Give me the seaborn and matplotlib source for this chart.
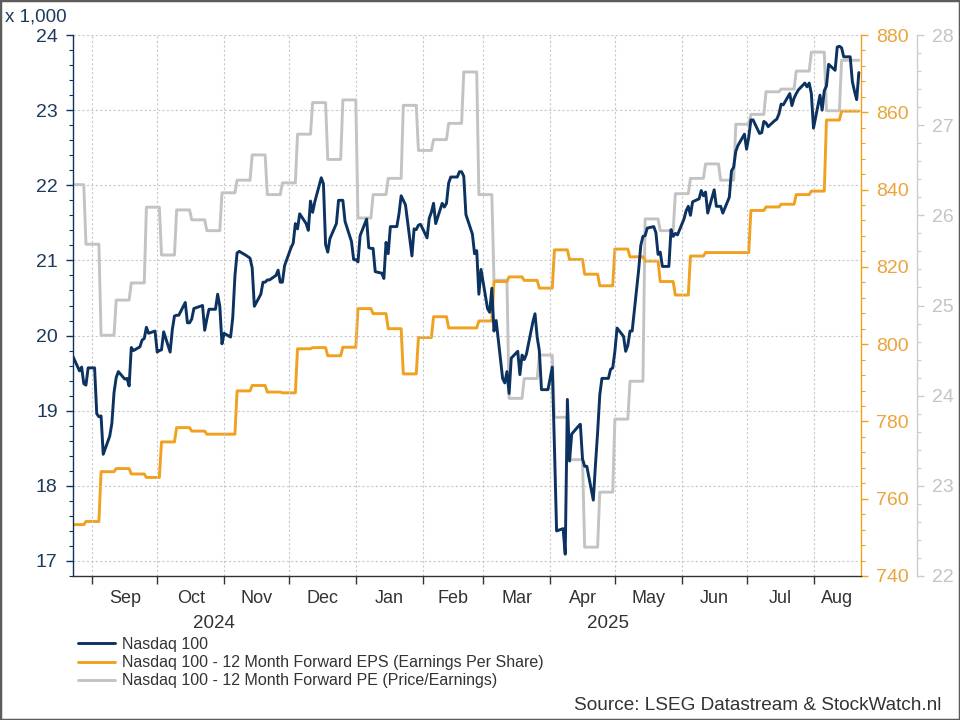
import pandas as pd
import matplotlib as mpl
mpl.use("Agg")
import matplotlib.pyplot as plt
import matplotlib.dates as mdates
import matplotlib.ticker as mticker
from matplotlib.patches import Rectangle
import seaborn as sns

# Nasdaq 100 close (x 1,000), one value per weekday, grouped per month
aug24 = [19.72, 19.53, 19.58, 19.36, 19.34, 19.57]
sep24 = [19.57, 18.96, 18.92, 18.93, 18.42,
         18.66, 18.83, 19.24, 19.44, 19.52,
         19.42, 19.43, 19.33, 19.84, 19.80,
         19.85, 19.94, 19.96, 20.11, 20.03,
         20.06]
oct24 = [19.78, 19.80, 19.81, 20.05,
         19.78, 20.08, 20.26, 20.27, 20.27,
         20.44, 20.17, 20.17, 20.22, 20.36,
         20.39, 20.40, 20.07, 20.22, 20.35,
         20.35, 20.55, 20.39, 19.89]
nov24 = [20.03,
         19.98, 20.24, 20.79, 21.10, 21.12,
         21.07, 21.05, 21.03, 20.90, 20.39,
         20.55, 20.71, 20.71, 20.74, 20.74,
         20.80, 20.87, 20.71, 20.71, 20.93]
dec24 = [21.17, 21.23, 21.49, 21.42, 21.62,
         21.49, 21.40, 21.79, 21.64, 21.78,
         22.10, 22.02, 21.21, 21.11, 21.29,
         21.49, 21.80, 21.80, 21.80, 21.52,
         21.25, 21.01]
jan25 = [21.01, 20.98, 21.33,
         21.55, 21.17, 21.16, 21.16, 20.85,
         20.83, 20.76, 21.24, 21.09, 21.45,
         21.45, 21.62, 21.86, 21.80, 21.74,
         21.06, 21.42, 21.41, 21.47, 21.48]
feb25 = [21.30, 21.56, 21.64, 21.76, 21.49,
         21.76, 21.71, 21.76, 22.03, 22.11,
         22.11, 22.18, 22.18, 22.12, 21.61,
         21.35, 21.09, 21.13, 20.55, 20.88]
mar25 = [20.36, 20.31, 20.63, 20.06, 20.20,
         19.43, 19.37, 19.52, 19.23, 19.70,
         19.79, 19.48, 19.74, 19.68, 19.75,
         20.18, 20.29, 19.98, 19.80, 19.28,
         19.28]
apr25 = [19.43, 19.58, 18.52, 17.40,
         17.43, 17.09, 19.15, 18.33, 18.69,
         18.79, 18.82, 18.36, 18.26, 18.26,
         17.81, 18.28, 18.71, 19.21, 19.43,
         19.43, 19.55, 19.57]
may25 = [19.79, 20.10,
         19.99, 19.79, 19.87, 20.06, 20.06,
         20.87, 21.20, 21.32, 21.33, 21.43,
         21.45, 21.37, 21.08, 21.11, 20.92,
         20.92, 21.41, 21.32, 21.36, 21.34]
jun25 = [21.55, 21.66, 21.72, 21.60, 21.78,
         21.82, 21.93, 21.86, 21.91, 21.63,
         21.94, 21.72, 21.72, 21.72, 21.63,
         21.84, 22.19, 22.24, 22.45, 22.53,
         22.68]
jul25 = [22.48, 22.64, 22.87, 22.87,
         22.69, 22.70, 22.85, 22.83, 22.78,
         22.86, 22.88, 22.95, 23.08, 23.07,
         23.22, 23.06, 23.16, 23.22, 23.27,
         23.36, 23.31, 23.36, 23.22]
aug25 = [22.76,
         23.20, 23.00, 23.26, 23.32, 23.61,
         23.53, 23.84, 23.85, 23.83, 23.71,
         23.71, 23.38, 23.25, 23.14, 23.50]

# 12 month forward EPS and PE, weekly updates (first value, then each Thursday)
eps_values = [753.3, 754.1, 767.0, 767.8, 766.4, 765.5,
              774.7, 778.4, 777.5, 776.7, 776.7,
              787.9, 789.3, 787.6, 787.4,
              798.8, 799.1, 797.0, 799.2,
              809.2, 807.9, 804.0, 792.3, 801.7,
              807.1, 804.2, 804.2, 806.0,
              816.2, 817.4, 816.5, 814.5,
              824.4, 821.9, 818.1, 815.1,
              824.6, 822.6, 821.5, 816.2, 812.7,
              822.8, 823.7, 823.7, 823.7,
              834.6, 835.5, 836.2, 838.7, 839.6,
              858.0, 860.3, 860.3]
pe_values = [26.34, 25.68, 24.67, 25.06, 25.25, 26.09,
             25.56, 26.06, 25.95, 25.83, 26.25,
             26.39, 26.67, 26.23, 26.36,
             26.90, 27.25, 26.62, 27.28,
             25.97, 26.23, 26.41, 27.22, 26.72,
             26.84, 27.02, 27.59, 26.23,
             25.28, 23.97, 24.19, 24.45,
             23.76, 23.29, 22.32, 22.93,
             23.74, 24.16, 25.96, 25.83, 26.24,
             26.41, 26.57, 26.39, 27.01,
             27.12, 27.37, 27.40, 27.60, 27.81,
             27.16, 27.72, 27.72]

NAVY = "#0b3260"
ORANGE = "#f0a120"
GREY = "#c3c3c3"

days = pd.bdate_range("2024-08-23", "2025-08-22")
ndx = aug24 + sep24 + oct24 + nov24 + dec24 + jan25 + feb25 + mar25 + apr25 + may25 + jun25 + jul25 + aug25
assert len(ndx) == len(days), (len(ndx), len(days))

update_dates = [pd.Timestamp("2024-08-23")] + list(pd.date_range("2024-08-29", "2025-08-21", freq="W-THU"))
eps = pd.Series(eps_values, index=update_dates).reindex(days, method="ffill")
pe = pd.Series(pe_values, index=update_dates).reindex(days, method="ffill")
df = pd.DataFrame({"date": days, "ndx": ndx, "eps": eps.values, "pe": pe.values})

sns.set_style("white")
plt.rcParams["font.family"] = ["Liberation Sans", "DejaVu Sans"]
plt.rcParams["font.size"] = 11.5

fig = plt.figure(figsize=(9.6, 7.2), dpi=100)
fig.patch.set_facecolor("white")
ax = fig.add_axes([73 / 960, 1 - 576 / 720, (861 - 73) / 960, (576 - 35) / 720])
ax_eps = ax.twinx()
ax_pe = ax.twinx()

# lines
LW = 2.1
sns.lineplot(data=df, x="date", y="pe", ax=ax_pe, color=GREY, linewidth=LW, label="Nasdaq 100 - 12 Month Forward PE (Price/Earnings)", legend=False)
sns.lineplot(data=df, x="date", y="eps", ax=ax_eps, color=ORANGE, linewidth=LW, label="Nasdaq 100 - 12 Month Forward EPS (Earnings Per Share)", legend=False)
sns.lineplot(data=df, x="date", y="ndx", ax=ax, color=NAVY, linewidth=LW, label="Nasdaq 100", legend=False)

# layering: navy on top
ax_pe.set_zorder(1)
ax_eps.set_zorder(2)
ax.set_zorder(3)
ax.patch.set_visible(False)

x0, x1 = pd.Timestamp("2024-08-23"), pd.Timestamp("2025-08-23")
ax.set_xlim(x0, x1)
ax.set_ylim(16.8, 24)
ax_eps.set_ylim(740, 880)
ax_pe.set_ylim(22, 28)
for a in (ax, ax_eps, ax_pe):
    a.set_xlabel("")
    a.set_ylabel("")

TICK_FS = 14

# left axis
ax.yaxis.set_major_locator(mticker.MultipleLocator(1))
ax.yaxis.set_minor_locator(mticker.MultipleLocator(0.2))
ax.tick_params(axis="y", which="major", left=True, length=5, width=1, color=NAVY, labelcolor="#1d3a5c", labelsize=TICK_FS, pad=6)
ax.tick_params(axis="y", which="minor", left=True, length=3, width=0.8, color=NAVY)
for s in ("top", "right"):
    ax.spines[s].set_visible(False)
ax.spines["left"].set_color(NAVY)
ax.spines["left"].set_linewidth(1.0)
ax.spines["bottom"].set_color("#333333")
ax.spines["bottom"].set_linewidth(1.0)

# x axis: month boundaries as ticks, month names centred in the visible part
ax.xaxis.set_major_locator(mdates.MonthLocator())
ax.xaxis.set_major_formatter(mticker.NullFormatter())
ax.tick_params(axis="x", which="major", bottom=True, length=6, width=1, color="#333333")
month_starts = pd.date_range("2024-09-01", "2025-08-01", freq="MS")
centres, names = [], []
for m in month_starts:
    end = min(m + pd.offsets.MonthBegin(1), x1)
    centres.append(mdates.date2num(m + (end - m) / 2))
    names.append(m.strftime("%b"))
ax.xaxis.set_minor_locator(mticker.FixedLocator(centres))
ax.xaxis.set_minor_formatter(mticker.FixedFormatter(names))
ax.tick_params(axis="x", which="minor", length=0, labelsize=13, labelcolor="#333333", pad=10)

ycoord = (576 - 623) / (576 - 35)
ax.text(mdates.date2num(x0 + (pd.Timestamp("2025-01-01") - x0) / 2), ycoord, "2024",
        transform=ax.get_xaxis_transform(), ha="center", va="center", fontsize=13.5, color="#333333")
ax.text(mdates.date2num(pd.Timestamp("2025-01-01") + (x1 - pd.Timestamp("2025-01-01")) / 2), ycoord, "2025",
        transform=ax.get_xaxis_transform(), ha="center", va="center", fontsize=13.5, color="#333333")

ax.grid(True, which="major", axis="both", color="#c8c8c8", linestyle=(0, (2, 2)), linewidth=0.8)

# EPS axis
for s in ("top", "left", "bottom"):
    ax_eps.spines[s].set_visible(False)
ax_eps.spines["right"].set_color(ORANGE)
ax_eps.spines["right"].set_linewidth(1.0)
ax_eps.yaxis.set_major_locator(mticker.MultipleLocator(20))
ax_eps.yaxis.set_minor_locator(mticker.MultipleLocator(4))
ax_eps.tick_params(axis="y", which="major", length=5, width=1, color=ORANGE, labelcolor="#eba43c", labelsize=TICK_FS, pad=6)
ax_eps.tick_params(axis="y", which="minor", length=3, width=0.8, color=ORANGE)
ax_eps.grid(False)

# PE axis
for s in ("top", "left", "bottom"):
    ax_pe.spines[s].set_visible(False)
ax_pe.spines["right"].set_position(("outward", 40))
ax_pe.spines["right"].set_color("#cccccc")
ax_pe.spines["right"].set_linewidth(1.0)
ax_pe.yaxis.set_major_locator(mticker.MultipleLocator(1))
ax_pe.yaxis.set_minor_locator(mticker.MultipleLocator(0.2))
ax_pe.tick_params(axis="y", which="major", length=5, width=1, color="#cccccc", labelcolor="#c4c4c4", labelsize=TICK_FS, pad=6)
ax_pe.tick_params(axis="y", which="minor", length=3, width=0.8, color="#cccccc")
ax_pe.grid(False)

fig.text(5 / 960, 1 - 17 / 720, "x 1,000", ha="left", va="center", fontsize=13.5, color="#1d3a5c")

handles = [ax.get_lines()[0], ax_eps.get_lines()[0], ax_pe.get_lines()[0]]
labels = [h.get_label() for h in handles]
fig.legend(handles, labels, loc="upper left", bbox_to_anchor=(78 / 960, 1 - 637 / 720),
           frameon=False, fontsize=11.5, handlelength=2.3, handletextpad=0.45,
           labelspacing=0.2, borderpad=0, borderaxespad=0, labelcolor="#333333")

fig.text(941 / 960, 1 - 706 / 720, "Source: LSEG Datastream & StockWatch.nl", ha="right", va="center",
         fontsize=13.7, color="#333333")

fig.patches.append(Rectangle((0, 0), 1, 1, transform=fig.transFigure, fill=False,
                             edgecolor="#5c5c5c", linewidth=2.5, zorder=10))

fig.savefig("out.png", dpi=100, facecolor="white")
